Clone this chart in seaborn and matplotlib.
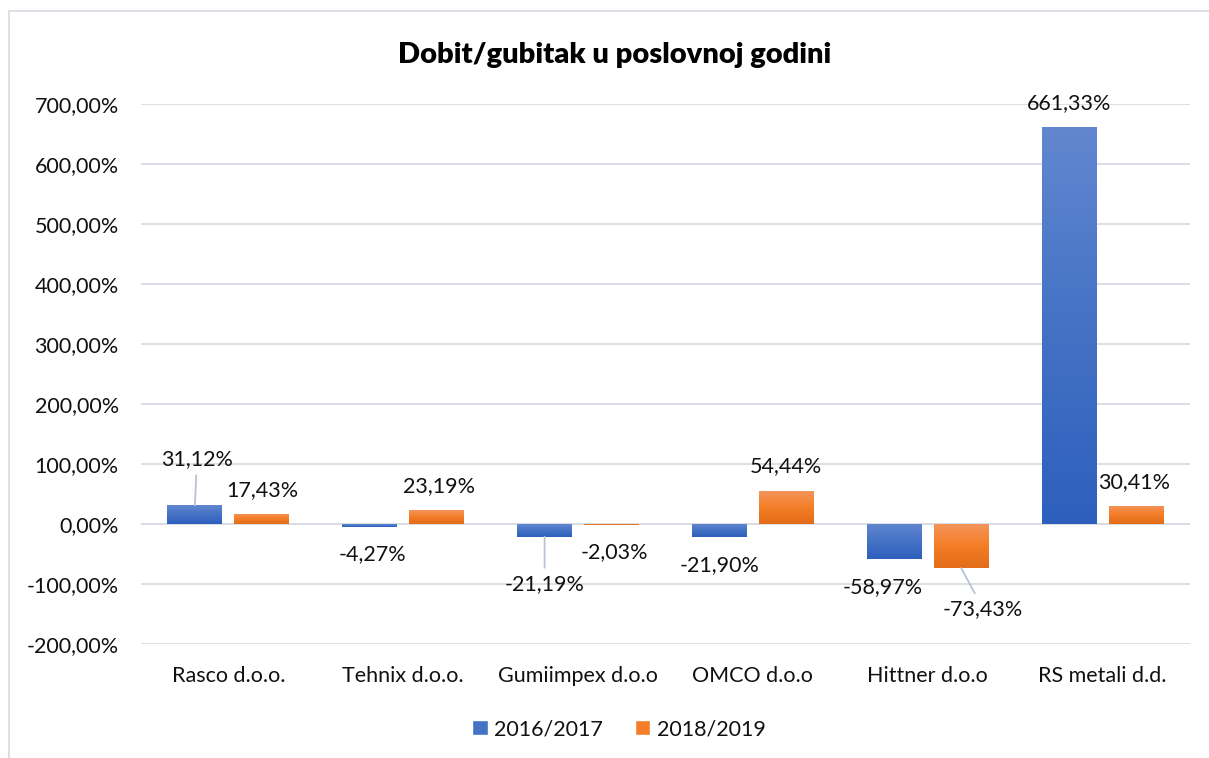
import numpy as np
import pandas as pd
import matplotlib
matplotlib.use("Agg")
import matplotlib.pyplot as plt
import matplotlib.colors as mcolors
from matplotlib.patches import Rectangle
from matplotlib.lines import Line2D
import seaborn as sns

# Podaci
tvrtke = ["Rasco d.o.o.", "Tehnix d.o.o.", "Gumiimpex d.o.o", "OMCO d.o.o",
          "Hittner d.o.o", "RS metali d.d."]
godina_2016_2017 = [31.12, -4.27, -21.19, -21.90, -58.97, 661.33]
godina_2018_2019 = [17.43, 23.19, -2.03, 54.44, -73.43, 30.41]
serije = ["2016/2017", "2018/2019"]
y_ticks = [-200, -100, 0, 100, 200, 300, 400, 500, 600, 700]

df = pd.DataFrame({
    "tvrtka": tvrtke * 2,
    "vrijednost": godina_2016_2017 + godina_2018_2019,
    "serija": [serije[0]] * 6 + [serije[1]] * 6,
})

# Stil
sns.set_style("white")
plt.rcParams["font.family"] = ["Lato", "DejaVu Sans"]

plavi = ["#6287d0", "#4472c4", "#2d5fbd"]
narancasti = ["#f4955c", "#f47e27", "#e26c17"]
siva = "#d9dde4"
tekst_boja = "#111111"
velicina = 15.5

fig = plt.figure(figsize=(12.09, 7.58), dpi=100)
ax = fig.add_axes([141 / 1209, 1 - 644 / 758, (1190 - 141) / 1209, (644 - 104) / 758])

sns.barplot(data=df, x="tvrtka", y="vrijednost", hue="serija",
            palette=[plavi[1], narancasti[1]], width=0.766, ax=ax,
            legend=False, errorbar=None)

# Suzavanje stupaca i gradijent
sirina = 55 / 175
for i, p in enumerate(ax.patches[:12]):
    c = p.get_x() + p.get_width() / 2
    p.set_x(c - sirina / 2)
    p.set_width(sirina)
    p.set_edgecolor("none")
    boje = plavi if i < 6 else narancasti
    cmap = mcolors.LinearSegmentedColormap.from_list("g", boje)
    x0, x1 = p.get_x(), p.get_x() + p.get_width()
    y0, y1 = sorted([p.get_y(), p.get_y() + p.get_height()])
    grad = np.linspace(0, 1, 256).reshape(-1, 1)
    im = ax.imshow(grad, cmap=cmap, aspect="auto", extent=[x0, x1, y0, y1],
                   origin="upper", zorder=p.get_zorder() + 0.1)
    im.set_clip_path(p)

ax.set_xlim(-0.5, 5.5)
ax.set_ylim(-200, 700)
ax.set_yticks(y_ticks)
ax.set_yticklabels([f"{v:.2f}".replace(".", ",") + "%" for v in y_ticks])
ax.yaxis.grid(True, color=siva, linewidth=1.3)
ax.set_axisbelow(True)
ax.axhline(0, color=siva, linewidth=1.3, zorder=0.5)
for s in ax.spines.values():
    s.set_visible(False)
ax.tick_params(axis="both", length=0, labelsize=velicina, colors=tekst_boja)
ax.tick_params(axis="y", pad=16)
ax.tick_params(axis="x", pad=16)
ax.set_xlabel("")
ax.set_ylabel("")

# Oznake vrijednosti (pomak u pikselima)
pomaci = [(2, 46), (3, -28), (0, -47), (0, -28), (-12, -28), (0, 24),
          (0, 23), (2, 24), (3, -27), (0, 25), (22, -41), (-2, 24)]
vodilice = [True, False, True, False, False, False,
            False, False, False, False, True, False]
vrijednosti = godina_2016_2017 + godina_2018_2019
for i, p in enumerate(ax.patches[:12]):
    v = vrijednosti[i]
    xc = p.get_x() + p.get_width() / 2
    tekst = f"{v:.2f}".replace(".", ",") + "%"
    dx, dy = pomaci[i]
    kw = {}
    if vodilice[i]:
        kw["arrowprops"] = dict(arrowstyle="-", color="#b8c2d2", lw=1.3,
                                shrinkA=2, shrinkB=0)
    ax.annotate(tekst, xy=(xc, v), xytext=(dx, dy), textcoords="offset pixels",
                ha="center", va="center", fontsize=velicina, color=tekst_boja, **kw)

# Naslov
fig.text(615 / 1209, 1 - 55 / 758, "Dobit/gubitak u poslovnoj godini",
         ha="center", va="center", fontsize=21, fontweight="heavy", color="#000000")

# Legenda
rucke = [Rectangle((0, 0), 1, 1, facecolor=plavi[1]),
         Rectangle((0, 0), 1, 1, facecolor=narancasti[1])]
fig.legend(rucke, serije, loc="center", bbox_to_anchor=(619 / 1209, 1 - 729 / 758),
           ncol=2, frameon=False, fontsize=velicina, handlelength=0.7, handleheight=0.7,
           handletextpad=0.3, columnspacing=1.5, labelcolor=tekst_boja)

# Okvir grafikona (vidljivi samo lijevi i gornji rub)
fig.lines.append(Line2D([9 / 1209, 9 / 1209], [0, 1 - 11 / 758],
                        transform=fig.transFigure, color=siva, linewidth=1.3))
fig.lines.append(Line2D([9 / 1209, 1], [1 - 11 / 758, 1 - 11 / 758],
                        transform=fig.transFigure, color=siva, linewidth=1.3))

fig.savefig("out.png", dpi=100)
